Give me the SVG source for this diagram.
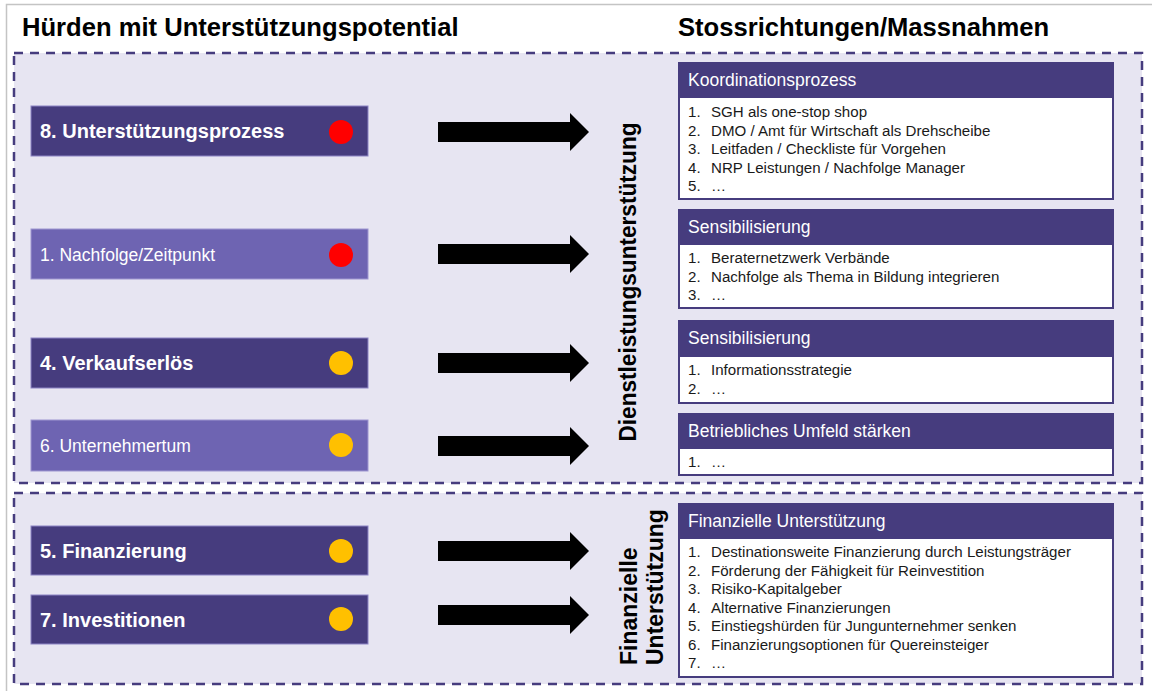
<svg xmlns="http://www.w3.org/2000/svg" width="1152" height="691" viewBox="0 0 1152 691">
<defs>
<style>
text{font-family:"Liberation Sans",Arial,sans-serif}
.title{font-size:25.6px;font-weight:bold;fill:#000}
.zone{fill:#E7E5F2;stroke:#463C7E;stroke-width:2.5;stroke-dasharray:9 7}
.hd{fill:#463C7E;stroke:#8C84C4;stroke-width:1}
.hl{fill:#6E64B2;stroke:#9E96D0;stroke-width:1}
.hdt{font-size:20px;font-weight:bold;fill:#fff}
.hlt{font-size:17.5px;fill:#fff}
.red{fill:#FF0000}
.yel{fill:#FFC000}
.arrow{fill:#000}
.vt{font-size:23px;font-weight:bold;fill:#000}
.mh{fill:#463C7E}
.mb{fill:#fff;stroke:#463C7E;stroke-width:2}
.mht{font-size:17.5px;fill:#fff}
.it{font-size:15.1px;fill:#1a1a1a}
</style>
</defs>
<rect x="0" y="0" width="1152" height="691" fill="#fff"/>
<rect x="6.5" y="4.5" width="1160" height="700" fill="none" stroke="#C4C4C4" stroke-width="1.5"/>
<text class="title" x="22" y="36">Hürden mit Unterstützungspotential</text>
<text class="title" x="678" y="36">Stossrichtungen/Massnahmen</text>

<g id="zone-dienstleistung">
<rect class="zone" x="14" y="53" width="1128" height="430"/>
</g>
<g id="zone-finanziell">
<rect class="zone" x="14" y="493" width="1128" height="191"/>
</g>

<g id="h8"><rect class="hd" x="31" y="106" width="337" height="50"/><text class="hdt" x="40" y="138">8. Unterstützungsprozess</text><circle class="red" cx="341" cy="132" r="12"/></g>
<g id="h1"><rect class="hl" x="31" y="229" width="337" height="50"/><text class="hlt" x="40" y="261">1. Nachfolge/Zeitpunkt</text><circle class="red" cx="341" cy="255" r="12"/></g>
<g id="h4"><rect class="hd" x="31" y="338" width="337" height="50"/><text class="hdt" x="40" y="370">4. Verkaufserlös</text><circle class="yel" cx="341" cy="363" r="12"/></g>
<g id="h6"><rect class="hl" x="31" y="420" width="337" height="51"/><text class="hlt" x="40" y="452">6. Unternehmertum</text><circle class="yel" cx="341" cy="445" r="12"/></g>
<g id="h5"><rect class="hd" x="31" y="526" width="337" height="49"/><text class="hdt" x="40" y="558">5. Finanzierung</text><circle class="yel" cx="341" cy="551" r="12"/></g>
<g id="h7"><rect class="hd" x="31" y="595" width="337" height="49"/><text class="hdt" x="40" y="627">7. Investitionen</text><circle class="yel" cx="341" cy="619" r="12"/></g>

<g id="connectors">
<polygon class="arrow" points="438,122 570,122 570,113 589,132 570,151 570,142 438,142"/>
<polygon class="arrow" points="438,244 570,244 570,235 589,254 570,273 570,264 438,264"/>
<polygon class="arrow" points="438,353 570,353 570,344 589,363 570,382 570,373 438,373"/>
<polygon class="arrow" points="438,436 570,436 570,427 589,446 570,465 570,456 438,456"/>
<polygon class="arrow" points="438,541 570,541 570,532 589,551 570,570 570,561 438,561"/>
<polygon class="arrow" points="438,605 570,605 570,596 589,615 570,634 570,625 438,625"/>
</g>

<g id="label-dienstleistung"><text class="vt" transform="translate(636,282) rotate(-90)" text-anchor="middle" textLength="319" lengthAdjust="spacingAndGlyphs">Dienstleistungsunterstützung</text></g>
<g id="label-finanziell">
<text class="vt" transform="translate(637,665) rotate(-90)">Finanzielle</text>
<text class="vt" transform="translate(663,665) rotate(-90)">Unterstützung</text>
</g>

<g id="m-koordination">
<rect class="mb" x="679" y="97" width="434" height="102"/>
<rect class="mh" x="678" y="62" width="436" height="36"/>
<text class="mht" x="688" y="86">Koordinationsprozess</text>
<text class="it" x="688" y="117">1.</text><text class="it" x="711" y="117">SGH als one-stop shop</text>
<text class="it" x="688" y="135.5">2.</text><text class="it" x="711" y="135.5">DMO / Amt für Wirtschaft als Drehscheibe</text>
<text class="it" x="688" y="154">3.</text><text class="it" x="711" y="154">Leitfaden / Checkliste für Vorgehen</text>
<text class="it" x="688" y="172.5">4.</text><text class="it" x="711" y="172.5">NRP Leistungen / Nachfolge Manager</text>
<text class="it" x="688" y="191">5.</text><text class="it" x="711" y="191">…</text>
</g>
<g id="m-sensibilisierung1">
<rect class="mb" x="679" y="244" width="434" height="64"/>
<rect class="mh" x="678" y="209" width="436" height="36"/>
<text class="mht" x="688" y="233">Sensibilisierung</text>
<text class="it" x="688" y="263">1.</text><text class="it" x="711" y="263">Beraternetzwerk Verbände</text>
<text class="it" x="688" y="281.5">2.</text><text class="it" x="711" y="281.5">Nachfolge als Thema in Bildung integrieren</text>
<text class="it" x="688" y="300">3.</text><text class="it" x="711" y="300">…</text>
</g>
<g id="m-sensibilisierung2">
<rect class="mb" x="679" y="356" width="434" height="47"/>
<rect class="mh" x="678" y="320" width="436" height="37"/>
<text class="mht" x="688" y="344">Sensibilisierung</text>
<text class="it" x="688" y="375">1.</text><text class="it" x="711" y="375">Informationsstrategie</text>
<text class="it" x="688" y="393.5">2.</text><text class="it" x="711" y="393.5">…</text>
</g>
<g id="m-umfeld">
<rect class="mb" x="679" y="448" width="434" height="27"/>
<rect class="mh" x="678" y="413" width="436" height="36"/>
<text class="mht" x="688" y="437">Betriebliches Umfeld stärken</text>
<text class="it" x="688" y="467">1.</text><text class="it" x="711" y="467">…</text>
</g>
<g id="m-finanziell">
<rect class="mb" x="679" y="538" width="434" height="139"/>
<rect class="mh" x="678" y="503" width="436" height="36"/>
<text class="mht" x="688" y="527">Finanzielle Unterstützung</text>
<text class="it" x="688" y="557">1.</text><text class="it" x="711" y="557">Destinationsweite Finanzierung durch Leistungsträger</text>
<text class="it" x="688" y="575.5">2.</text><text class="it" x="711" y="575.5">Förderung der Fähigkeit für Reinvestition</text>
<text class="it" x="688" y="594">3.</text><text class="it" x="711" y="594">Risiko-Kapitalgeber</text>
<text class="it" x="688" y="612.5">4.</text><text class="it" x="711" y="612.5">Alternative Finanzierungen</text>
<text class="it" x="688" y="631">5.</text><text class="it" x="711" y="631">Einstiegshürden für Jungunternehmer senken</text>
<text class="it" x="688" y="649.5">6.</text><text class="it" x="711" y="649.5">Finanzierungsoptionen für Quereinsteiger</text>
<text class="it" x="688" y="668">7.</text><text class="it" x="711" y="668">…</text>
</g>
</svg>
